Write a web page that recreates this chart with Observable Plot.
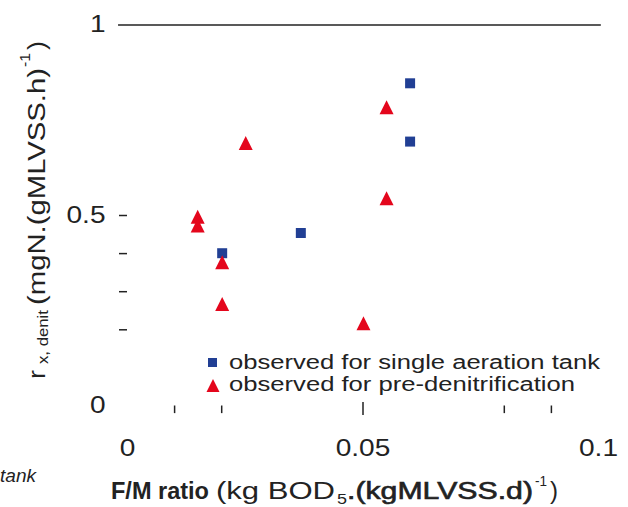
<!DOCTYPE html>
<html><head><meta charset="utf-8">
<script src="https://cdn.jsdelivr.net/npm/d3@7"></script>
<script src="https://cdn.jsdelivr.net/npm/@observablehq/plot@0.6"></script>
<style>body{margin:0;background:#fff}svg{display:block}</style>
</head><body><div id="chart"></div>
<script>
// ---- data ----
const singleX = [0.0201, 0.0368, 0.0600, 0.0600];
const singleY = [0.401, 0.454, 0.694, 0.847];
const preX = [0.0149, 0.0149, 0.0201, 0.0201, 0.0251, 0.0501, 0.0550, 0.0550];
const preY = [0.497, 0.474, 0.377, 0.268, 0.690, 0.217, 0.545, 0.784];
const seriesNames = ["observed for single aeration tank", "observed for pre-denitrification"];
const xTickLabels = [0, 0.05, 0.1];
const xMinorTicks = [0.01, 0.02, 0.08, 0.09];
const xMajorTicks = [0.05];
const yTickLabels = [0, 0.5, 1];
const yMinorTicks = [0.2, 0.3, 0.4, 0.5];
const topLine = [1];

const single = singleX.map((x, i) => ({x, y: singleY[i]}));
const pre = preX.map((x, i) => ({x, y: preY[i]}));

const BLUE = "#213f94", RED = "#e4061c", INK = "#222";
const squareSym = {draw(ctx){ctx.moveTo(-5,-5);ctx.lineTo(5,-5);ctx.lineTo(5,5);ctx.lineTo(-5,5);ctx.closePath();}};
const triSym = {draw(ctx){ctx.moveTo(0,-7);ctx.lineTo(7,7);ctx.lineTo(-7,7);ctx.closePath();}};

const fmt = d => d === 0 ? "0" : String(d);

const svg = Plot.plot({
  width: 628, height: 507,
  marginLeft: 127, marginRight: 30, marginTop: 24.5, marginBottom: 101.5,
  style: {fontFamily: "'Liberation Sans', Arial, sans-serif", fontSize: "23px", color: INK, background: "#fff"},
  x: {domain: [0, 0.1], axis: null},
  y: {domain: [0, 1], axis: null},
  marks: [
    Plot.ruleY(topLine, {y: d => d, x1: -0.0019, x2: 0.1006, stroke: INK, strokeWidth: 1.6}),
    Plot.ruleY(yMinorTicks, {y: d => d, x1: -0.0017, x2: 0, stroke: INK, strokeWidth: 1.5}),
    Plot.ruleX(xMinorTicks, {x: d => d, y1: 0, y2: -0.02, stroke: INK, strokeWidth: 1.5}),
    Plot.ruleX(xMajorTicks, {x: d => d, y1: 0.009, y2: -0.025, stroke: INK, strokeWidth: 1.5}),
    Plot.text(yTickLabels, {x: 0, y: d => d, text: fmt, dx: -22, textAnchor: "end", fill: INK, fontSize: 23}),
    Plot.text(xTickLabels, {x: d => d, y: 0, text: fmt, dy: 42.5, textAnchor: "middle", fill: INK, fontSize: 23}),
    Plot.dot(single, {x: "x", y: "y", symbol: squareSym, fill: BLUE, stroke: null}),
    Plot.dot(pre, {x: "x", y: "y", symbol: triSym, fill: RED, stroke: null})
  ]
});
document.getElementById("chart").append(svg);
const s = d3.select(svg);

// horizontally widen tick labels like the reference
s.selectAll('g[aria-label="text"] text').each(function(){
  const L = this.getComputedTextLength();
  this.setAttribute("textLength", (L * 1.22).toFixed(1));
  this.setAttribute("lengthAdjust", "spacingAndGlyphs");
});

function addText(parent, str, x, y, o) {
  const t = parent.append("text").attr("x", x).attr("y", y).text(str)
    .attr("fill", INK)
    .attr("text-anchor", "start")
    .attr("font-family", "'Liberation Sans', Arial, sans-serif")
    .attr("font-size", o.size)
    .attr("font-weight", o.weight || "normal")
    .attr("font-style", o.style || "normal");
  if (o.len) t.attr("textLength", o.len).attr("lengthAdjust", "spacingAndGlyphs");
  if (o.semi) t.attr("stroke", INK).attr("stroke-width", 0.6);
  return t;
}

// legend
const lg = s.append("g");
lg.append("path").attr("transform", "translate(212.5,362.5) scale(0.9)").attr("d", d3.symbol(squareSym)()).attr("fill", BLUE);
lg.append("path").attr("transform", "translate(213,385.5) scale(0.93)").attr("d", d3.symbol(triSym)()).attr("fill", RED);
addText(lg, seriesNames[0], 229, 369, {size: 19.5, len: 371});
addText(lg, seriesNames[1], 229, 391, {size: 19.5, len: 346});

// y axis label (rotated)
const gy = s.append("g").attr("transform", "translate(45,380) rotate(-90)");
addText(gy, "r", 1, 0, {size: 24, len: 9});
addText(gy, "x, denit", 16, 2.5, {size: 14, len: 54});
addText(gy, "(mgN.(gMLVSS.h)", 75, 0, {size: 23, len: 237});
addText(gy, "-1", 313, -15, {size: 14, len: 14});
addText(gy, ")", 330, 0, {size: 23, len: 9});

// x axis label
addText(s, "F/M ratio", 111, 499, {size: 23, weight: "bold", len: 98});
addText(s, "(kg BOD", 216, 499, {size: 23, len: 119});
addText(s, "5", 337, 504, {size: 14, len: 10});
addText(s, ".(kgMLVSS.d)", 347, 499, {size: 23, semi: true, len: 186});
addText(s, "-1", 535, 486, {size: 14, len: 12});
addText(s, ")", 550, 499, {size: 23, len: 8});

// cropped caption fragment at left edge
addText(s, "tank", 0, 482, {size: 18.5, style: "italic", len: 36});
</script>
</body></html>
